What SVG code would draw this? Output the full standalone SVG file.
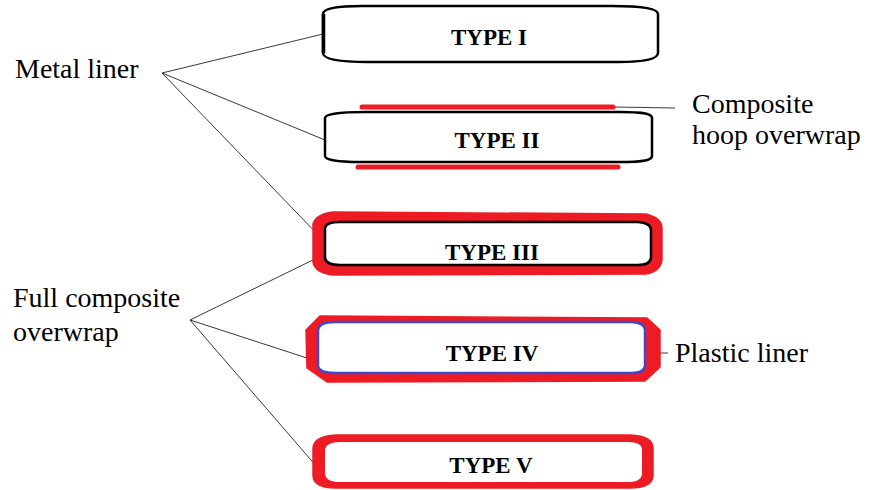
<svg xmlns="http://www.w3.org/2000/svg" width="871" height="490" viewBox="0 0 871 490">
  <style>
    .label { font-family: "Liberation Serif", "Times New Roman", serif; font-size: 28px; fill: #000; }
    .type { font-family: "Liberation Serif", "Times New Roman", serif; font-size: 23px; font-weight: bold; fill: #000; text-anchor: middle; }
    .liner { fill: #fff; stroke: #000; stroke-width: 2.5; }
    .wrap { fill: #ed1c24; stroke: #ed1c24; stroke-width: 1.5; stroke-linejoin: round; }
    .hoop { stroke: #ed1c24; stroke-width: 5; stroke-linecap: round; }
    .plastic { fill: #fff; stroke: #3f48cc; stroke-width: 2.5; }
    .lead { stroke: #222; stroke-width: 0.9; fill: none; }
  </style>
  <rect width="871" height="490" fill="#fff"/>

  <!-- leader lines -->
  <g id="connectors">
    <line class="lead" x1="162" y1="73" x2="323" y2="34"/>
    <line class="lead" x1="162" y1="73" x2="325" y2="140"/>
    <line class="lead" x1="162" y1="73" x2="323" y2="240"/>
    <line class="lead" x1="190" y1="320" x2="317" y2="258"/>
    <line class="lead" x1="190" y1="320" x2="310" y2="359"/>
    <line class="lead" x1="190" y1="320" x2="317" y2="467"/>
    <line class="lead" x1="613" y1="107" x2="675" y2="108"/>
    <line class="lead" x1="645" y1="353" x2="668" y2="353"/>
  </g>

  <!-- Type I: metal liner only -->
  <g id="type1">
    <path class="liner" d="M323,14 C323,8 340,6 362,6 L612,6 C645,6 658,9 658,14 L658,53 C658,59 645,62 618,62 L368,62 C338,62 323,59 323,53 Z"/>
    <line x1="323.5" y1="14" x2="323.5" y2="53" stroke="#000" stroke-width="3.5"/>
    <text class="type" x="489" y="45">TYPE I</text>
  </g>

  <!-- Type II: metal liner with hoop wrap -->
  <g id="type2">
    <line class="hoop" x1="362" y1="107" x2="613" y2="107"/>
    <line class="hoop" x1="358" y1="167" x2="618" y2="167"/>
    <path class="liner" d="M325,118 C325,114 340,112 365,112 L620,112 C645,112 652,114 652,118 L652,156 C652,160 645,162 620,162 L360,162 C338,162 325,160 325,156 Z"/>
    <text class="type" x="497" y="148">TYPE II</text>
  </g>

  <!-- Type III: metal liner, full wrap -->
  <g id="type3">
    <path class="wrap" d="M313,224 Q316,214 333,212 L646,214 Q662,218 662,228 L662,260 Q660,272 646,274 L334,275 Q315,273 313,262 Z"/>
    <path class="liner" d="M325,228 Q326,222 340,222 L638,222 Q651,223 651,230 L651,258 Q650,265 638,265 L340,265 Q326,265 325,258 Z"/>
    <text class="type" x="492" y="260">TYPE III</text>
  </g>

  <!-- Type IV: plastic liner, full wrap -->
  <g id="type4">
    <path class="wrap" d="M306,330 L320,316 L647,318 L660,330 L660,367 L645,381 L327,382 L307,368 Z"/>
    <path class="plastic" d="M318,330 Q319,322 335,322 L632,322 Q645,323 645,330 L645,366 Q644,373 632,373 L335,373 Q319,373 318,366 Z"/>
    <text class="type" x="492" y="361">TYPE IV</text>
  </g>

  <!-- Type V: linerless full wrap -->
  <g id="type5">
    <path class="wrap" d="M313,448 Q314,436 336,435 L630,435 Q653,436 653,448 L653,476 Q652,488 630,488 L336,488 Q314,488 313,476 Z"/>
    <path d="M325,450 Q326,442 340,442 L628,442 Q642,442 642,450 L642,474 Q641,482 628,482 L340,482 Q326,482 325,474 Z" fill="#fff"/>
    <text class="type" x="491" y="473">TYPE V</text>
  </g>

  <!-- side labels -->
  <g id="label-metal"><text class="label" x="15" y="78">Metal liner</text></g>
  <g id="label-hoop">
    <text class="label" x="692" y="113">Composite</text>
    <text class="label" x="692" y="144">hoop overwrap</text>
  </g>
  <g id="label-full">
    <text class="label" x="13" y="307">Full composite</text>
    <text class="label" x="13" y="341">overwrap</text>
  </g>
  <g id="label-plastic"><text class="label" x="675" y="362">Plastic liner</text></g>
</svg>
